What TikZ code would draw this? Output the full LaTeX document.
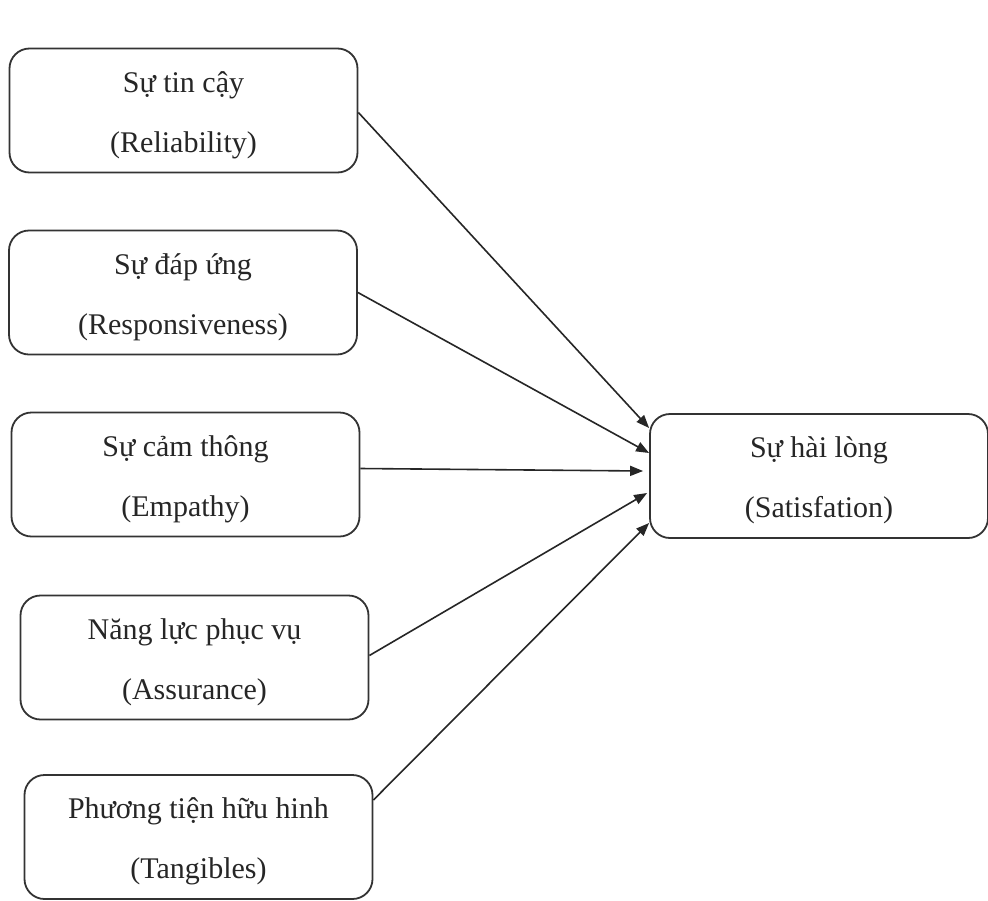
\documentclass[tikz,border=0pt]{standalone}
\usepackage{fontspec}
\setmainfont{Liberation Serif}
\usetikzlibrary{arrows.meta,calc}
\newcommand\twolines[2]{\rule{0pt}{31pt}#1\\#2\rule[-8pt]{0pt}{8pt}}
\begin{document}
\begin{tikzpicture}[x=1pt,y=-1pt,
  factor/.style={draw=black!80,line width=1.8pt,rounded corners=20pt,
    minimum width=348pt,minimum height=124pt,inner sep=0pt,align=center,
    font=\fontsize{30}{60}\selectfont,text=black!85},
  link/.style={line width=1.6pt,draw=black!85,-{Triangle[length=13pt,width=10pt]}}]
\useasboundingbox (0,0) rectangle (988,900);
\fill[white] (0,0) rectangle (988,900);
\node[factor] (b1) at (183.5,110.5) {\twolines{Sự tin cậy}{(Reliability)}};
\node[factor] (b2) at (183,292.5) {\twolines{Sự đáp ứng}{(Responsiveness)}};
\node[factor] (b3) at (185.5,474.5) {\twolines{Sự cảm thông}{(Empathy)}};
\node[factor] (b4) at (194.5,657.5) {\twolines{Năng lực phục vụ}{(Assurance)}};
\node[factor] (b5) at (198.5,837) {\twolines{Phương tiện hữu hinh}{(Tangibles)}};
\node[factor,minimum width=338pt] (t) at (819,476) {\twolines{Sự hài lòng}{(Satisfation)}};
\draw[link] ($(b1.east)+(0,2)$) -- ($(t.west)+(0,-48)$);
\draw[link] (b2.east) -- ($(t.west)+(0,-23)$);
\draw[link] ($(b3.east)+(0,-6)$) -- ($(t.west)+(-6,-5)$);
\draw[link] ($(b4.east)+(0,-2)$) -- ($(t.west)+(-2,17)$);
\draw[link] ($(b5.east)+(0,-37)$) -- ($(t.west)+(0,47)$);
\end{tikzpicture}
\end{document}
